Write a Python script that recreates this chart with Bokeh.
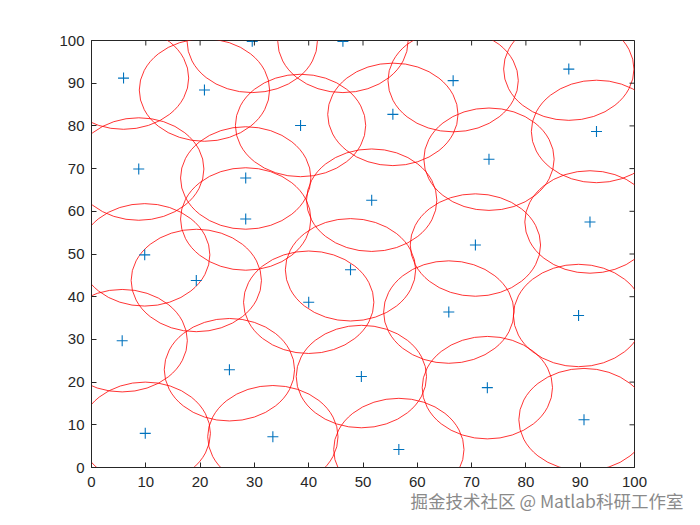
from bokeh.plotting import figure
from bokeh.models import LinearAxis, FixedTicker, Range1d, Title
from bokeh.embed import file_html
from bokeh.resources import INLINE

# sensor node positions
node_x = [5.9, 20.8, 29.6, 46.3, 66.6, 87.9, 55.5, 93.0, 73.2, 51.6,
          91.8, 70.7, 47.7, 38.5, 8.7, 28.4, 28.4, 9.8, 19.3, 40.0,
          5.65, 25.4, 9.9, 33.4, 65.8, 89.7, 49.7, 72.9, 90.7, 56.6]
node_y = [91.2, 88.4, 99.8, 99.8, 90.6, 93.3, 82.7, 78.7, 72.2, 62.6,
          57.5, 52.1, 46.3, 80.1, 69.9, 67.8, 58.2, 49.8, 43.8, 38.7,
          29.7, 22.9, 8.0, 7.2, 36.4, 35.6, 21.3, 18.7, 11.2, 4.2]
R = 12  # sensing radius
x_ticks = list(range(0, 101, 10))
y_ticks = list(range(0, 101, 10))
watermark = "掘金技术社区 @ Matlab科研工作室"

AX = "#262626"
FW, FH = 543, 427
TICK = 5

p = figure(frame_width=FW, frame_height=FH,
           x_range=Range1d(0, 100), y_range=Range1d(0, 100),
           output_backend="svg", toolbar_location=None,
           min_border_left=91, min_border_right=62,
           min_border_top=40, min_border_bottom=55,
           x_axis_location=None, y_axis_location=None)
p.grid.visible = False
p.outline_line_color = AX
p.outline_line_width = 1
p.background_fill_color = "white"
p.border_fill_color = "white"

p.ellipse(x=node_x, y=node_y, width=2 * R, height=2 * R,
          fill_color=None, line_color="#FF0000", line_width=0.8)
p.scatter(x=node_x, y=node_y, marker="cross", size=11,
          line_color="#0072BD", line_width=1.1)


def style(ax, ticks, standoff):
    ax.ticker = FixedTicker(ticks=ticks)
    ax.axis_line_color = AX
    ax.axis_line_width = 1
    ax.major_tick_line_color = AX
    ax.major_tick_line_width = 1
    ax.major_tick_in = TICK
    ax.major_tick_out = 0
    ax.minor_tick_line_color = None
    ax.major_label_text_color = AX
    ax.major_label_text_font = "Liberation Sans"
    ax.major_label_text_font_size = "15px"
    ax.major_label_standoff = standoff


bx = LinearAxis()
style(bx, x_ticks, 9)
p.add_layout(bx, "below")
lx = LinearAxis()
style(lx, y_ticks, 7)
p.add_layout(lx, "left")

# inward ticks on the top and right edges of the box
xs = p.x_range.end - p.x_range.start
ys = p.y_range.end - p.y_range.start
tx_len = TICK * ys / FH
ty_len = TICK * xs / FW
p.segment(x0=x_ticks, y0=[p.y_range.end] * len(x_ticks),
          x1=x_ticks, y1=[p.y_range.end - tx_len] * len(x_ticks),
          line_color=AX, line_width=1)
p.segment(x0=[p.x_range.end] * len(y_ticks), y0=y_ticks,
          x1=[p.x_range.end - ty_len] * len(y_ticks), y1=y_ticks,
          line_color=AX, line_width=1)

wm = Title(text=watermark, align="left", offset=319, standoff=-7,
           text_font="Noto Sans CJK SC", text_font_size="17.5px",
           text_font_style="normal", text_color="#8a8a8a")
p.add_layout(wm, "below")

open("out.html", "w").write(file_html(p, INLINE))
